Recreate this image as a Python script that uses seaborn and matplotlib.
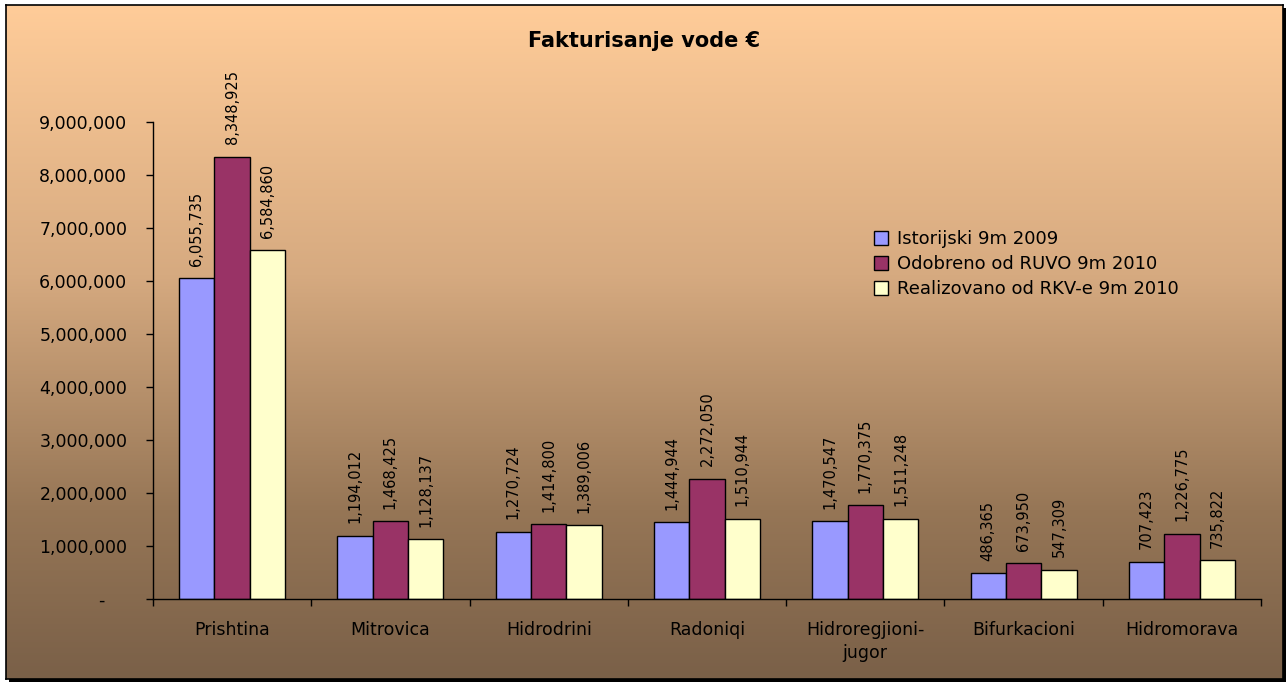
import numpy as np
import pandas as pd
import matplotlib
matplotlib.use("Agg")
import matplotlib.pyplot as plt
from matplotlib.colors import LinearSegmentedColormap
from matplotlib.patches import Rectangle
import seaborn as sns

regions = ["Prishtina", "Mitrovica", "Hidrodrini", "Radoniqi",
           "Hidroregjioni-\njugor", "Bifurkacioni", "Hidromorava"]
istorijski = [6055735, 1194012, 1270724, 1444944, 1470547, 486365, 707423]
odobreno = [8348925, 1468425, 1414800, 2272050, 1770375, 673950, 1226775]
realizovano = [6584860, 1128137, 1389006, 1510944, 1511248, 547309, 735822]
series_names = ["Istorijski 9m 2009", "Odobreno od RUVO 9m 2010",
                "Realizovano od RKV-e 9m 2010"]
colors = ["#9999FF", "#993366", "#FFFFCC"]
y_ticks = [0, 1000000, 2000000, 3000000, 4000000, 5000000,
           6000000, 7000000, 8000000, 9000000]

sns.set_theme(style="white")
plt.rcParams["font.family"] = ["DejaVu Sans"]
plt.rcParams["text.color"] = "black"

W, H = 1288, 682
fig = plt.figure(figsize=(W / 100, H / 100), dpi=100)
fig.patch.set_facecolor("white")


def rect(x0, y0, x1, y1):
    # pixel box (top-left origin) -> figure fraction rect
    return [x0 / W, 1 - y1 / H, (x1 - x0) / W, (y1 - y0) / H]


# drop shadow of the frame
r = rect(9, 8, 1286, 682)
fig.patches.append(Rectangle((r[0], r[1]), r[2], r[3], transform=fig.transFigure,
                             facecolor="black", edgecolor="none", zorder=-3))

# gradient background
bg = fig.add_axes(rect(6, 5, 1283, 679))
cmap = LinearSegmentedColormap.from_list(
    "bg", [(0, "#FFCC99"), (0.4, "#D6AA80"), (0.75, "#967656"), (1, "#7A6048")])
grad = np.linspace(0, 1, 256).reshape(-1, 1)
bg.imshow(grad, aspect="auto", cmap=cmap, extent=[0, 1, 0, 1])
bg.set_xticks([])
bg.set_yticks([])
for s in bg.spines.values():
    s.set_color("black")
    s.set_linewidth(1.2)

df = pd.DataFrame({
    "region": regions * 3,
    "value": istorijski + odobreno + realizovano,
    "series": [n for n in series_names for _ in regions],
})

ax = fig.add_axes(rect(153, 122, 1261, 599))
ax.set_facecolor("none")
sns.barplot(data=df, x="region", y="value", hue="series", palette=colors,
            width=0.67, edgecolor="black", linewidth=1, saturation=1,
            errorbar=None, ax=ax)

for container, vals in zip(ax.containers, [istorijski, odobreno, realizovano]):
    ax.bar_label(container, labels=[f"{v:,}" for v in vals], rotation=90,
                 padding=9, fontsize=10.5, color="black")

ax.set_xlim(-0.5, 6.5)
ax.set_ylim(0, 9000000)
ax.set_yticks(y_ticks)
ax.set_yticklabels([f"{v:,}" if v else "-    " for v in y_ticks], fontsize=12.5)
ax.set_xticks(range(len(regions)))
ax.set_xticklabels(regions, fontsize=12.5)
for t in ax.get_xticklabels():
    t.set_linespacing(1.35)
ax.set_xticks(np.arange(-0.5, len(regions), 1), minor=True)
ax.tick_params(axis="x", which="major", length=0, pad=16, labelcolor="black")
ax.tick_params(axis="x", which="minor", length=5, width=1, color="black",
               direction="out", bottom=True)
ax.tick_params(axis="y", length=5, width=1, color="black", direction="out",
               left=True, pad=13.5, labelcolor="black")
ax.set_xlabel("")
ax.set_ylabel("")
sns.despine(ax=ax)
for s in ("left", "bottom"):
    ax.spines[s].set_color("black")
    ax.spines[s].set_linewidth(1)

handles, labels = ax.get_legend_handles_labels()
ax.legend(handles, labels, loc="upper left",
          bbox_to_anchor=(874 / W, 1 - 230 / H), bbox_transform=fig.transFigure,
          frameon=False, fontsize=13, borderpad=0, borderaxespad=0,
          handlelength=0.8, handleheight=0.8, handletextpad=0.45,
          labelspacing=0.4)

fig.text(0.5, 1 - 41 / H, "Fakturisanje vode €", ha="center", va="center",
         fontsize=15, fontweight="bold")

fig.savefig("out.png", dpi=100)
